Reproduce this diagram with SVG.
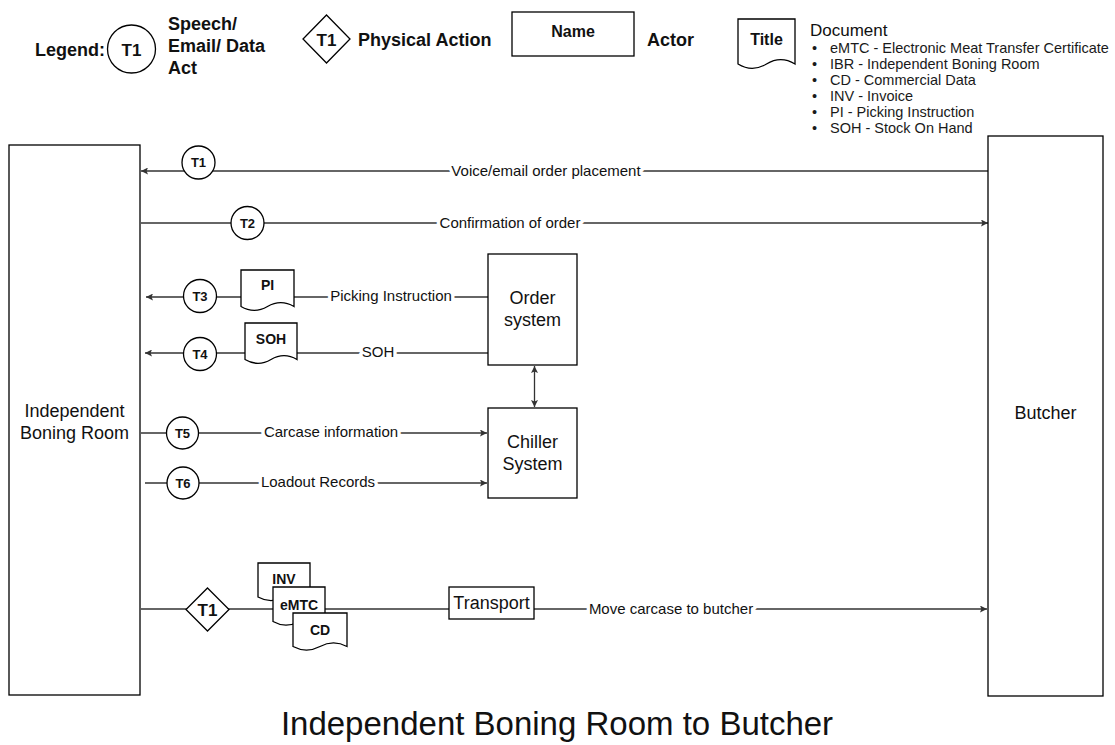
<svg xmlns="http://www.w3.org/2000/svg" width="1115" height="745" viewBox="0 0 1115 745">
<style>
text{font-family:"Liberation Sans",Arial,sans-serif;fill:#111}
.shape{fill:#fff;stroke:#000;stroke-width:1.3}
.conn{fill:none;stroke:#333;stroke-width:1.3}
.lbl{font-size:15px;text-anchor:middle;paint-order:stroke;stroke:#fff;stroke-width:7px;stroke-linejoin:round}
.tc{font-size:13px;font-weight:bold;text-anchor:middle}
.dc{font-size:14px;font-weight:bold;text-anchor:middle}
.big{font-size:18px;text-anchor:middle}
.leg{font-size:18px;font-weight:bold}
.li{font-size:14.5px}
.li text{fill:#1a1a1a}
</style>
<defs>
<marker id="arr" viewBox="0 0 10 10" refX="10" refY="5" markerWidth="8" markerHeight="7" markerUnits="userSpaceOnUse" orient="auto-start-reverse">
<path d="M0,0 L10,5 L0,10 L2,5 z" fill="#333"/>
</marker>
</defs>
<rect width="1115" height="745" fill="#fff"/>

<g id="legend">
<text class="leg" x="35" y="56">Legend:</text>
<circle class="shape" cx="131.5" cy="49" r="24"/>
<text class="leg" x="131.5" y="56" text-anchor="middle" style="font-size:17px">T1</text>
<text class="leg" x="168" y="30">Speech/</text>
<text class="leg" x="168" y="52">Email/ Data</text>
<text class="leg" x="168" y="74">Act</text>
<polygon class="shape" points="326.5,15 350,39 326.5,63 303,39"/>
<text class="leg" x="326.5" y="46" text-anchor="middle" style="font-size:17px">T1</text>
<text class="leg" x="358" y="46">Physical Action</text>
<rect class="shape" x="512" y="12" width="122" height="44"/>
<text class="leg" x="573" y="37" text-anchor="middle" style="font-size:16px">Name</text>
<text class="leg" x="647" y="46">Actor</text>
<path class="shape" d="M738,19 H795 V64 Q780.75,55.3 766.5,64 Q752.25,72.7 738,64 Z"/>
<text class="leg" x="766.5" y="45" text-anchor="middle" style="font-size:16px">Title</text>
<text x="810" y="36" style="font-size:17px">Document</text>
<g class="li">
<text x="812" y="53">•</text><text x="830" y="53">eMTC - Electronic Meat Transfer Certificate</text>
<text x="812" y="69">•</text><text x="830" y="69">IBR - Independent Boning Room</text>
<text x="812" y="85">•</text><text x="830" y="85">CD - Commercial Data</text>
<text x="812" y="101">•</text><text x="830" y="101">INV - Invoice</text>
<text x="812" y="117">•</text><text x="830" y="117">PI - Picking Instruction</text>
<text x="812" y="133">•</text><text x="830" y="133">SOH - Stock On Hand</text>
</g>
</g>

<g id="connectors">
<line class="conn" x1="988" y1="171" x2="141" y2="171" marker-end="url(#arr)"/>
<line class="conn" x1="141" y1="223" x2="988" y2="223" marker-end="url(#arr)"/>
<line class="conn" x1="488" y1="297" x2="146" y2="297" marker-end="url(#arr)"/>
<line class="conn" x1="488" y1="353" x2="145" y2="353" marker-end="url(#arr)"/>
<line class="conn" x1="534.5" y1="366" x2="534.5" y2="407" marker-start="url(#arr)" marker-end="url(#arr)"/>
<line class="conn" x1="141" y1="433" x2="487" y2="433" marker-end="url(#arr)"/>
<line class="conn" x1="145" y1="483" x2="487" y2="483" marker-end="url(#arr)"/>
<line class="conn" x1="141" y1="609" x2="987" y2="609" marker-end="url(#arr)"/>
<text class="lbl" x="546" y="176">Voice/email order placement</text>
<text class="lbl" x="510" y="228">Confirmation of order</text>
<text class="lbl" x="391" y="301">Picking Instruction</text>
<text class="lbl" x="378" y="357">SOH</text>
<text class="lbl" x="331" y="437">Carcase information</text>
<text class="lbl" x="318" y="487">Loadout Records</text>
<text class="lbl" x="671" y="614">Move carcase to butcher</text>
</g>

<g id="ibr">
<rect class="shape" x="9" y="145" width="131" height="550"/>
<text class="big" x="74.5" y="416.5">Independent</text>
<text class="big" x="74.5" y="438.5">Boning Room</text>
</g>
<g id="butcher">
<rect class="shape" x="988" y="136" width="115" height="560"/>
<text class="big" x="1045.5" y="418.5">Butcher</text>
</g>
<g id="order-system">
<rect class="shape" x="488" y="254" width="89" height="111"/>
<text class="big" x="532.5" y="304">Order</text>
<text class="big" x="532.5" y="326">system</text>
</g>
<g id="chiller-system">
<rect class="shape" x="488" y="408" width="89" height="90"/>
<text class="big" x="532.5" y="448">Chiller</text>
<text class="big" x="532.5" y="470">System</text>
</g>
<g id="transport">
<rect class="shape" x="449" y="587" width="85" height="32"/>
<text class="big" x="491.5" y="609">Transport</text>
</g>

<g id="t1-speech">
<circle class="shape" cx="198.5" cy="162.5" r="16.5"/>
<text class="tc" x="198.5" y="167">T1</text>
</g>
<g id="t2">
<circle class="shape" cx="247.5" cy="223" r="16.5"/>
<text class="tc" x="247.5" y="227.5">T2</text>
</g>
<g id="t3">
<circle class="shape" cx="200" cy="296" r="16.5"/>
<text class="tc" x="200" y="300.5">T3</text>
</g>
<g id="doc-pi">
<path class="shape" d="M241,270 H294 V306.5 Q280.75,298.8 267.5,306.5 Q254.25,314.2 241,306.5 Z"/>
<text class="dc" x="267.5" y="290">PI</text>
</g>
<g id="t4">
<circle class="shape" cx="200" cy="354" r="16.5"/>
<text class="tc" x="200" y="358.5">T4</text>
</g>
<g id="doc-soh">
<path class="shape" d="M245,323 H297 V359.5 Q284,351.8 271,359.5 Q258,367.2 245,359.5 Z"/>
<text class="dc" x="271" y="344">SOH</text>
</g>
<g id="t5">
<circle class="shape" cx="182.5" cy="433" r="16"/>
<text class="tc" x="182.5" y="437.5">T5</text>
</g>
<g id="t6">
<circle class="shape" cx="183" cy="483" r="16"/>
<text class="tc" x="183" y="487.5">T6</text>
</g>
<g id="t1-physical">
<polygon class="shape" points="207.5,588 229,609.5 207.5,631 186,609.5"/>
<text class="tc" x="207.5" y="615.5" style="font-size:17px">T1</text>
</g>
<g id="doc-inv">
<path class="shape" d="M258,563 H310 V597 Q297,589.8 284,597 Q271,604.2 258,597 Z"/>
<text class="dc" x="284" y="584">INV</text>
</g>
<g id="doc-emtc">
<path class="shape" d="M273,587 H325 V621.5 Q312,614.2 299,621.5 Q286,628.8 273,621.5 Z"/>
<text class="dc" x="299" y="610">eMTC</text>
</g>
<g id="doc-cd">
<path class="shape" d="M293,613 H347 V646.5 Q333.5,639.4 320,646.5 Q306.5,653.6 293,646.5 Z"/>
<text class="dc" x="320" y="635">CD</text>
</g>

<text x="557" y="735" text-anchor="middle" style="font-size:33px">Independent Boning Room to Butcher</text>
</svg>
